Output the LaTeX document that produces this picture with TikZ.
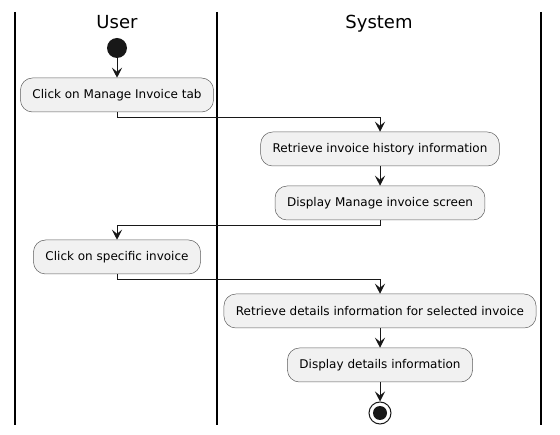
\documentclass[tikz,border=0pt]{standalone}
\usepackage{fontspec}
\setmainfont{DejaVu Sans}
\usetikzlibrary{arrows.meta}
\definecolor{boxfill}{HTML}{F1F1F1}
\definecolor{ink}{HTML}{181818}
\tikzset{
  act/.style={draw=ink!70, line width=0.5pt, fill=boxfill, rounded corners=12pt,
    minimum height=34pt, inner xsep=12pt, font=\fontsize{12}{14}\selectfont, text=black},
  flow/.style={draw=ink, line width=1pt, -{Stealth[length=10pt,width=10pt,inset=4pt]}},
  lane/.style={draw=black, line width=1.5pt},
  hdr/.style={font=\fontsize{18}{22}\selectfont, text=black, anchor=base, inner sep=0pt}
}
\begin{document}
\begin{tikzpicture}[x=1pt,y=-1pt]
\useasboundingbox (0,0) rectangle (560,435);
% swimlanes
\coordinate (l1t) at (15,12); \coordinate (l1b) at (15,425);
\coordinate (l2t) at (217,12); \coordinate (l2b) at (217,425);
\coordinate (l3t) at (541,12); \coordinate (l3b) at (541,425);
\draw[lane] (l1t) -- (l1b);
\draw[lane] (l2t) -- (l2b);
\draw[lane] (l3t) -- (l3b);
\node[hdr] (huser) at (117,29) {User};
\node[hdr] (hsys) at (379,29) {System};
% nodes
\node[circle, fill=ink, minimum size=20pt, inner sep=0pt] (start) at (117,48) {};
\node[act] (b1) at (117,95) {Click on Manage Invoice tab};
\node[act] (b2) at (380,149) {Retrieve invoice history information};
\node[act] (b3) at (380,203) {Display Manage invoice screen};
\node[act] (b4) at (117,257) {Click on specific invoice};
\node[act] (b5) at (380,311) {Retrieve details information for selected invoice};
\node[act] (b6) at (380,365) {Display details information};
\node[circle, draw=ink, line width=1pt, minimum size=22pt, inner sep=0pt] (stop) at (380,413) {};
\fill[ink] (stop.center) circle (7pt);
% connectors
\draw[flow] (start) -- (b1);
\draw[flow] (b1.south) -- ++(0,5) -| (b2.north);
\draw[flow] (b2) -- (b3);
\draw[flow] (b3.south) -- ++(0,5) -| (b4.north);
\draw[flow] (b4.south) -- ++(0,5) -| (b5.north);
\draw[flow] (b5) -- (b6);
\draw[flow] (b6) -- (stop);
\end{tikzpicture}
\end{document}
